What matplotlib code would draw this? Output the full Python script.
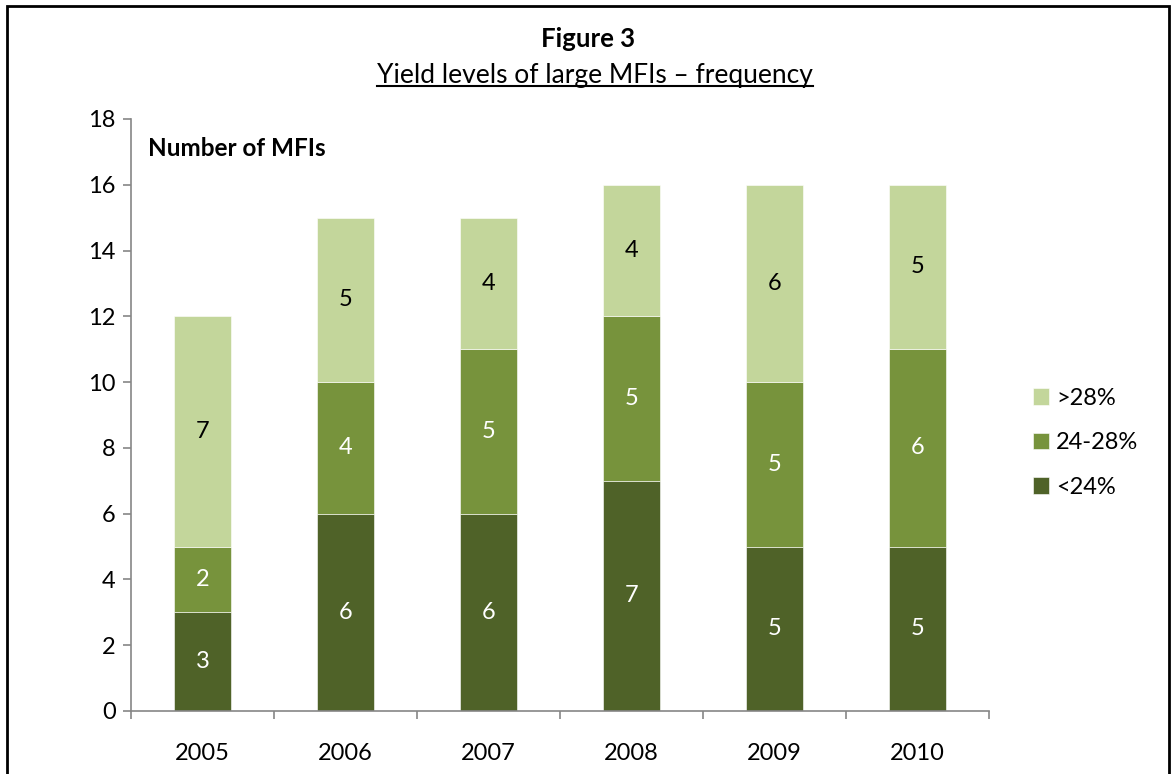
import matplotlib
matplotlib.use("Agg")
import matplotlib.pyplot as plt
import numpy as np
from matplotlib.lines import Line2D
from matplotlib.patches import Rectangle

plt.rcParams['font.family'] = ['Lato', 'DejaVu Sans']

# data
years = ['2005', '2006', '2007', '2008', '2009', '2010']
below_24 = [3, 6, 6, 7, 5, 5]
mid_24_28 = [2, 4, 5, 5, 5, 6]
above_28 = [7, 5, 4, 4, 6, 5]
series_names = ['<24%', '24-28%', '>28%']
colors = ['#4F6228', '#77933C', '#C3D69B']
label_colors = ['white', 'white', 'black']

fig = plt.figure(figsize=(11.76, 7.74), dpi=100)
ax = fig.add_axes([0.1114, 0.0814, 0.7296, 0.7649])

x = np.arange(len(years))
bottom = np.zeros(len(years))
handles = []
for vals, name, col, lc in zip([below_24, mid_24_28, above_28], series_names, colors, label_colors):
    bars = ax.bar(x, vals, width=0.4, bottom=bottom, color=col, label=name,
                  edgecolor='white', linewidth=0.4)
    for xi, b, v in zip(x, bottom, vals):
        ax.text(xi, b + v / 2, str(v), ha='center', va='center', fontsize=17, color=lc)
    bottom += np.array(vals)
    handles.append(bars)

ax.set_xlim(-0.5, len(years) - 0.5)
ax.set_ylim(0, 18)
ax.set_yticks(range(0, 19, 2))
ax.set_xticks(x)
ax.set_xticklabels(years)
ax.set_xticks(np.arange(-0.5, len(years)), minor=True)
ax.tick_params(axis='x', which='major', length=0, pad=23, labelsize=17)
ax.tick_params(axis='x', which='minor', length=6, color='#868686', width=1.2, direction='out')
ax.tick_params(axis='y', length=6, color='#868686', width=1.2, labelsize=17, pad=5)
for s in ['top', 'right']:
    ax.spines[s].set_visible(False)
for s in ['left', 'bottom']:
    ax.spines[s].set_color('#868686')
    ax.spines[s].set_linewidth(1.2)

ax.text(0.02, 0.95, 'Number of MFIs', transform=ax.transAxes, fontsize=17.5,
        fontweight='bold', ha='left', va='center')

leg = fig.legend(handles[::-1], series_names[::-1], loc='center left',
                 bbox_to_anchor=(0.86, 0.428), frameon=False, fontsize=17,
                 handlelength=0.7, handleheight=0.7, handletextpad=0.3,
                 labelspacing=1.0)

fig.text(0.5, 0.949, 'Figure 3', ha='center', va='center', fontsize=18.5, fontweight='bold')
sub = fig.text(0.506, 0.903, 'Yield levels of large MFIs \u2013 frequency', ha='center',
               va='center', fontsize=19)

# underline for the subtitle
fig.canvas.draw()
bb = sub.get_window_extent().transformed(fig.transFigure.inverted())
fig.add_artist(Line2D([bb.x0, bb.x1], [bb.y0 + 0.002, bb.y0 + 0.002],
                      transform=fig.transFigure, color='black', linewidth=1.5))

# frame around the figure
fig.add_artist(Rectangle((0.006, -0.05), 0.988, 1.042, transform=fig.transFigure,
                         fill=False, edgecolor='black', linewidth=2))

fig.savefig('out.png', dpi=100)
